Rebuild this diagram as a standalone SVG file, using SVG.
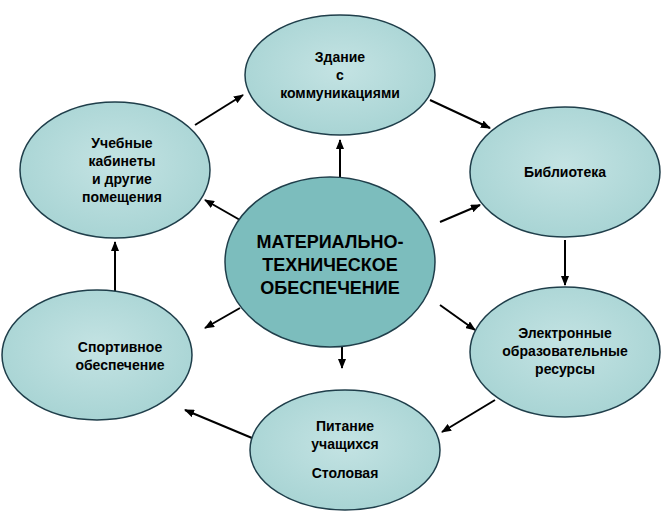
<svg xmlns="http://www.w3.org/2000/svg" width="670" height="514" viewBox="0 0 670 514">
<defs>
<marker id="ah" markerWidth="10" markerHeight="8" refX="9" refY="4" orient="auto" markerUnits="userSpaceOnUse"><path d="M0,0 L10,4 L0,8 Z" fill="#000"/></marker>
<radialGradient id="g1" cx="0.5" cy="0.45" r="0.6"><stop offset="0" stop-color="#C4E3E3"/><stop offset="1" stop-color="#A6D3D3"/></radialGradient>
</defs>
<style>
.n{fill:url(#g1);stroke:#1F3E4A;stroke-width:1.5}
.c{fill:#7CBDBD;stroke:#1F3E4A;stroke-width:1.5}
text{font-family:"Liberation Sans",Arial,sans-serif;font-weight:bold;font-size:14px;fill:#000;text-anchor:middle}
.big{font-size:18px}
#edges line{stroke:#000;stroke-width:2;marker-end:url(#ah)}
</style>
<rect width="670" height="514" fill="#fff"/>
<g id="edges">
<line x1="195" y1="125" x2="243" y2="95"/>
<line x1="430" y1="100" x2="490" y2="128"/>
<line x1="565" y1="240" x2="565" y2="285"/>
<line x1="495" y1="400" x2="442" y2="432"/>
<line x1="252" y1="438" x2="185" y2="410"/>
<line x1="115" y1="292" x2="115" y2="242"/>
<line x1="340" y1="180" x2="340" y2="140"/>
<line x1="440" y1="222" x2="480" y2="205"/>
<line x1="440" y1="305" x2="475" y2="330"/>
<line x1="342" y1="345" x2="342" y2="368"/>
<line x1="240" y1="308" x2="205" y2="328"/>
<line x1="240" y1="220" x2="205" y2="200"/>
</g>
<g id="zdanie"><ellipse class="n" cx="340" cy="75" rx="95" ry="60"/>
<text x="340" y="62">Здание</text><text x="340" y="80">с</text><text x="340" y="98">коммуникациями</text></g>
<g id="biblioteka"><ellipse class="n" cx="565" cy="172" rx="95" ry="65"/>
<text x="565" y="177">Библиотека</text></g>
<g id="elektronnye"><ellipse class="n" cx="565" cy="352" rx="95" ry="65"/>
<text x="565" y="338">Электронные</text><text x="565" y="356">образовательные</text><text x="565" y="374">ресурсы</text></g>
<g id="pitanie"><ellipse class="n" cx="345" cy="450" rx="95" ry="60"/>
<text x="345" y="431">Питание</text><text x="345" y="449">учащихся</text><text x="345" y="478">Столовая</text></g>
<g id="sport"><ellipse class="n" cx="97" cy="355" rx="95" ry="65"/>
<text x="120" y="352">Спортивное</text><text x="120" y="370">обеспечение</text></g>
<g id="uchebnye"><ellipse class="n" cx="115" cy="170" rx="95" ry="68"/>
<text x="122" y="148">Учебные</text><text x="122" y="166">кабинеты</text><text x="122" y="184">и другие</text><text x="122" y="202">помещения</text></g>
<g id="center"><ellipse class="c" cx="330" cy="262" rx="105" ry="85"/>
<text class="big" x="330" y="248">МАТЕРИАЛЬНО-</text><text class="big" x="330" y="271">ТЕХНИЧЕСКОЕ</text><text class="big" x="330" y="294">ОБЕСПЕЧЕНИЕ</text></g>
</svg>
